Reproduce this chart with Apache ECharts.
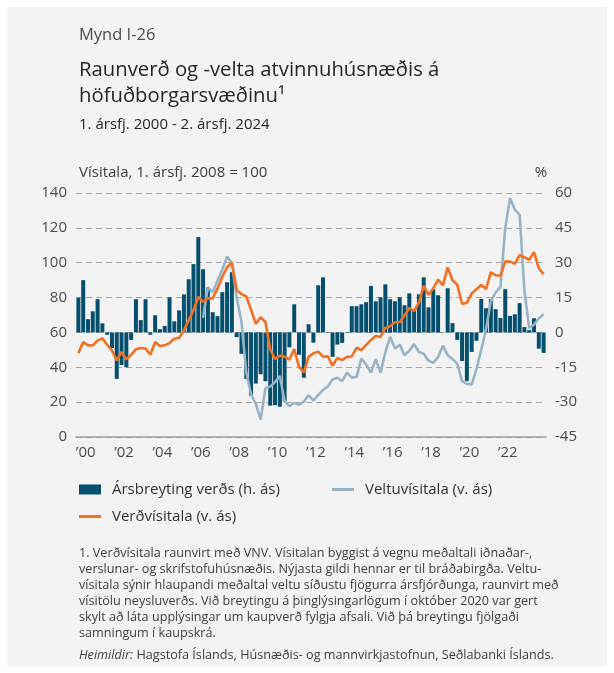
<!DOCTYPE html>
<html>
<head>
<meta charset="utf-8">
<script src="https://cdn.jsdelivr.net/npm/echarts@6/dist/echarts.min.js"></script>
<style>
  html, body { margin: 0; padding: 0; background: #fff; }
  #panel { position: absolute; left: 7px; top: 7px; width: 600px; height: 659px; background: #f3f3f3; }
  #chart { position: absolute; left: 0; top: 0; width: 614px; height: 673px; }
</style>
</head>
<body>
<div id="panel"></div>
<div id="chart"></div>
<script>
// quarters 1. ársfj. 2000 - 2. ársfj. 2024
const firstYear = 2000;
const lastYear = 2024;
const quarters = [];
for (let y = firstYear; y <= lastYear; y++) {
    for (let q = 1; q <= 4; q++) {
        if (y === lastYear && q > 2) break;
        quarters.push(y + 'Q' + q);
    }
}

// Ársbreyting verðs, % (hægri ás)
const priceChange = [
    14.9, 22.5, 5.7, 9.1,
    14.3, 3.9, -1, -6.7,
    -20, -14, -15, -3.2,
    14.3, 5.3, 14.3, -1,
    7.4, 1.4, 2.8, 15.1,
    4.8, 9.5, 16.4, 22.9,
    29.4, 41, 27.2, 19.4,
    8.7, 7, 17.3, 21.6,
    25.9, -2, -9.2, -20,
    -27.2, -22, -18, -21,
    -31.5, -31.3, -32, -29.4,
    -6.4, 12.1, -9.6, -19.5,
    3.5, -4.4, 20.3, 23.7,
    0.2, -10.5, -5.2, -4.5,
    -0.2, 11.3, 11.3, 12.1,
    13, 20, 13.4, 15.1,
    20.7, 14.3, 13.4, 15.1,
    11.7, 16.8, 10, 16.4,
    23.7, 10.8, 18.6, 16,
    0.2, 19, 4, -3.2,
    -12.3, -20.9, -8.4, -3.6,
    14.4, 10.4, 14.3, 10,
    6.2, 18.6, 7.1, 7.8,
    12.6, 2.3, 1, 6.1,
    -7, -8.8
];

// Verðvísitala (vinstri ás)
const priceIndex = [
    48, 54.5, 52.6, 52.6,
    55.3, 56.6, 52.9, 49.7,
    44, 48.8, 44.5, 47.2,
    50.3, 51, 50.8, 47.2,
    54.5, 52.2, 52.6, 53.9,
    56.4, 56.8, 61.2, 67,
    72.7, 80.4, 77.5, 79.7,
    79.5, 85.1, 91.8, 97.5,
    100, 84.2, 82, 80.6,
    73, 65, 68.7, 66,
    50.2, 44.7, 46.7, 46.1,
    44.4, 50.4, 40.2, 37.1,
    46, 48, 49, 46.1,
    46.2, 41, 45.4, 44.1,
    46, 46.2, 51.2, 49.8,
    52.8, 55.7, 58, 57.4,
    62.6, 63.5, 65.8, 65.8,
    69.8, 74, 72.3, 77,
    86.7, 81.5, 85.3, 90.3,
    87, 97.3, 89.9, 87.4,
    76.3, 77, 82.4, 84.8,
    87.2, 84.9, 94.5, 92.8,
    92.5, 100.8, 100.6, 99.4,
    104.4, 103.1, 101.7, 106.1,
    96.8, 93.5
];

// Veltuvísitala (vinstri ás), byrjar 3. ársfj. 2006
const turnoverIndex = [
    null, null, null, null,
    null, null, null, null,
    null, null, null, null,
    null, null, null, null,
    null, null, null, null,
    null, null, null, null,
    null, null, 68.5, 86,
    83, 89.5, 96, 103.5,
    100, 80, 66, 37,
    24.5, 19, 10, 28,
    29, 31.5, 35, 20.5,
    17.7, 19.5, 18.5, 20.3,
    24, 21, 24, 27,
    29, 33, 34, 32,
    37, 34, 34.5, 45,
    41.5, 37, 44.7, 37,
    48.5, 57.5, 50.7, 53,
    47, 49.5, 53.3, 48.8,
    47.8, 43.8, 42.5, 45.9,
    52.4, 46.9, 44.7, 42.1,
    32, 30.5, 30.2, 39,
    50, 62, 78, 83,
    86, 120, 137, 130.5,
    127.5, 84, 62.5, 64.5,
    68, 70.5
];

const footnote = [
    '1. Verðvísitala raunvirt með VNV. Vísitalan byggist á vegnu meðaltali iðnaðar-,',
    'verslunar- og skrifstofuhúsnæðis. Nýjasta gildi hennar er til bráðabirgða. Veltu-',
    'vísitala sýnir hlaupandi meðaltal veltu síðustu fjögurra ársfjórðunga, raunvirt með',
    'vísitölu neysluverðs. Við breytingu á þinglýsingarlögum í október 2020 var gert',
    'skylt að láta upplýsingar um kaupverð fylgja afsali. Við þá breytingu fjölgaði',
    'samningum í kaupskrá.'
];

const FONT = "'Open Sans', sans-serif";
const BAR = '#044f6e';
const ORANGE = '#f37021';
const GREY = '#97b4c6';
const NOTE_SIZE = 12.65;

function txt(x, y, text, size, color, extra) {
    return {
        type: 'text', x: x, y: y, silent: true,
        style: Object.assign({
            text: text, fill: color, fontSize: size, fontFamily: FONT,
            verticalAlign: 'middle'
        }, extra || {})
    };
}

const graphics = [
    txt(79, 35, 'Mynd I-26', 16.5, '#4d4d4d'),
    txt(79, 70, 'Raunverð og -velta atvinnuhúsnæðis á', 20.3, '#262626'),
    txt(79, 96, 'höfuðborgarsvæðinu¹', 20.3, '#262626'),
    txt(79, 125, '1. ársfj. 2000 - 2. ársfj. 2024', 15, '#262626'),
    txt(79, 173, 'Vísitala, 1. ársfj. 2008 = 100', 15, '#404040'),
    txt(541, 173, '%', 15, '#404040', { align: 'center' })
];
footnote.forEach(function (line, i) {
    graphics.push(txt(79, 553 + i * 16, line, NOTE_SIZE, '#404040'));
});
graphics.push({
    type: 'text', x: 79, y: 655, silent: true,
    style: {
        text: '{i|Heimildir:} Hagstofa Íslands, Húsnæðis- og mannvirkjastofnun, Seðlabanki Íslands.',
        fill: '#404040', fontSize: NOTE_SIZE, fontFamily: FONT, verticalAlign: 'middle',
        rich: { i: { fontStyle: 'italic', fontSize: NOTE_SIZE, fontFamily: FONT, fill: '#404040' } }
    }
});

function legendAt(name, left, top, h) {
    return {
        data: [name], left: left, top: top, padding: 0,
        icon: 'rect', itemWidth: 22, itemHeight: h,
        selectedMode: false,
        textStyle: { fontSize: 15, color: '#333', fontFamily: FONT, padding: [0, 0, 0, 6] }
    };
}

const chart = echarts.init(document.getElementById('chart'));
const option = {
    animation: false,
    backgroundColor: 'transparent',
    textStyle: { fontFamily: FONT },
    graphic: graphics,
    legend: [
        legendAt('Ársbreyting verðs (h. ás)', 79, 482, 10),
        legendAt('Veltuvísitala (v. ás)', 332, 482, 3),
        legendAt('Verðvísitala (v. ás)', 79, 509, 3)
    ],
    grid: { left: 76, right: 68, top: 193, bottom: 236 },
    xAxis: {
        type: 'category',
        data: quarters,
        boundaryGap: true,
        axisLine: { lineStyle: { color: '#a0a0a0', width: 1.5 } },
        axisTick: {
            length: 6,
            interval: function (index) { return index % 4 === 0; },
            lineStyle: { color: '#a0a0a0', width: 1.5 }
        },
        axisLabel: {
            interval: function (index) { return index % 8 === 1 && index < 96; },
            formatter: function (v) { return '’' + v.slice(2, 4); },
            fontSize: 15, color: '#4d4d4d', margin: 8, padding: [0, 0, 0, 5]
        }
    },
    yAxis: [
        {
            type: 'value', min: 0, max: 140, interval: 20,
            axisLine: { show: false }, axisTick: { show: false },
            axisLabel: { fontSize: 15, color: '#4d4d4d', margin: 9 },
            splitLine: { lineStyle: { type: [6, 4], color: '#a8a8a8', width: 1 } }
        },
        {
            type: 'value', min: -45, max: 60, interval: 15, position: 'right',
            axisLine: { show: false }, axisTick: { show: false },
            axisLabel: { fontSize: 15, color: '#4d4d4d', margin: 9 },
            splitLine: { show: false }
        }
    ],
    series: [
        {
            name: 'Ársbreyting verðs (h. ás)', type: 'bar', yAxisIndex: 1,
            data: priceChange, barCategoryGap: '17%',
            itemStyle: { color: BAR }
        },
        {
            name: 'Veltuvísitala (v. ás)', type: 'line', yAxisIndex: 0,
            data: turnoverIndex, showSymbol: false, symbol: 'none',
            lineStyle: { color: GREY, width: 2.6 }, itemStyle: { color: GREY }
        },
        {
            name: 'Verðvísitala (v. ás)', type: 'line', yAxisIndex: 0,
            data: priceIndex, showSymbol: false, symbol: 'none',
            lineStyle: { color: ORANGE, width: 2.6 }, itemStyle: { color: ORANGE }
        }
    ]
};
chart.setOption(option);
</script>
</body>
</html>
